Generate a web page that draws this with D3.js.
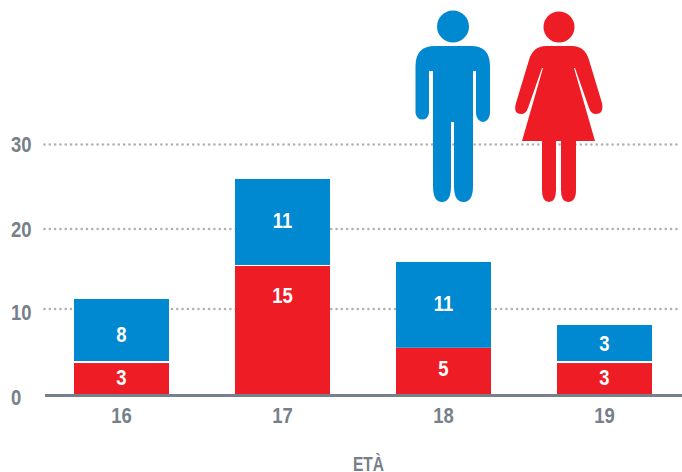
<!DOCTYPE html>
<html><head><meta charset="utf-8">
<style>html,body{margin:0;padding:0;background:#fff}svg{display:block}
text{font-family:"Liberation Sans",sans-serif;font-weight:700}</style>
<script src="https://cdn.jsdelivr.net/npm/d3@7"></script></head><body><div id="c"></div>
<script>
const categories=["16","17","18","19"];
const redLabels=[3,15,5,3];
const blueLabels=[8,11,11,3];
const redHeights=[3.68,15.38,5.47,3.68];
const blueHeights=[7.57,10.54,10.41,4.45];
const ticks=[0,10,20,30];
const xTitle="ETÀ";
const BLUE="#0088d0",RED="#ee1c25",GREY="#76808a",DOT="#a9b2ba";
const W=682,H=472;
const svg=d3.select("#c").append("svg").attr("width",W).attr("height",H);
const x=d3.scaleBand().domain(categories).range([74,652]).paddingInner(66/161).paddingOuter(0);
const y=d3.scaleLinear().domain(ticks).range([394.5,309,229,144.5]);
const label=(sel,px,py,size,fill,txt,sx=0.84)=>sel.append("text")
 .attr("transform",`translate(${px},${py}) scale(${sx},1)`).attr("text-anchor","middle")
 .attr("fill",fill).attr("font-size",size).text(txt);
// grid
svg.append("g").selectAll("line").data(ticks.slice(1)).join("line")
 .attr("x1",44.5).attr("x2",678).attr("y1",d=>y(d)).attr("y2",d=>y(d))
 .attr("stroke",DOT).attr("stroke-width",2.6).attr("stroke-linecap","round").attr("stroke-dasharray","0.01 5.3");
const tickBase=[404.5,320,237,152];
ticks.forEach((t,i)=>{
 svg.append("text").attr("transform",`translate(11,${tickBase[i]}) scale(0.84,1)`)
  .attr("fill",GREY).attr("font-size",22).text(t);
});
// bars
const g=svg.append("g");
const gap=[2,1,0,2];
const blueBase=[342,228,311,351];
const redBase=[385,303,376,384.5];
categories.forEach((c,i)=>{
 const top=redHeights[i];
 g.append("rect").attr("x",x(c)).attr("width",x.bandwidth()).attr("y",y(top)).attr("height",y(0)-y(top)).attr("fill",RED);
 g.append("rect").attr("x",x(c)).attr("width",x.bandwidth()).attr("y",y(top+blueHeights[i])).attr("height",y(top)-y(top+blueHeights[i])-gap[i]).attr("fill",BLUE);
 const cx=x(c)+x.bandwidth()/2;
 label(g,cx,redBase[i],22,"#fff",redLabels[i]);
 label(g,cx,blueBase[i],22,"#fff",blueLabels[i]);
 label(svg,cx,423,22,GREY,c);
});
svg.append("line").attr("x1",45).attr("x2",W).attr("y1",395.5).attr("y2",395.5).attr("stroke",GREY).attr("stroke-width",3);
label(svg,368.5,470.5,21,GREY,xTitle,0.74);
// icons
const man=svg.append("g").attr("fill",BLUE);
man.append("circle").attr("cx",453).attr("cy",26.5).attr("r",16);
man.append("path").attr("d","M435 46H471Q490 46 490 66V113A7 9 0 0 1 476 113V71H473V186Q473 202 463.5 202Q454 202 454 186V122H451V186Q451 202 442 202Q433 202 433 186V71H429V113A7 9 0 0 1 415.5 113V66Q415.5 46 435 46Z");
const woman=svg.append("g").attr("fill",RED);
woman.append("circle").attr("cx",559).attr("cy",27).attr("r",15.5);
woman.append("path").attr("d","M546 46H572Q585 46 589 60L602 103Q604 114 596 114Q591 114 589 108L575 68H574L595 141H576V190Q576 202 568 202Q561 202 561 190V141H556V190Q556 202 549 202Q542 202 542 190V141H522L543 68H542L528 108Q526 114 521 114Q513 114 516 103L529 60Q533 46 546 46Z");
</script></body></html>
